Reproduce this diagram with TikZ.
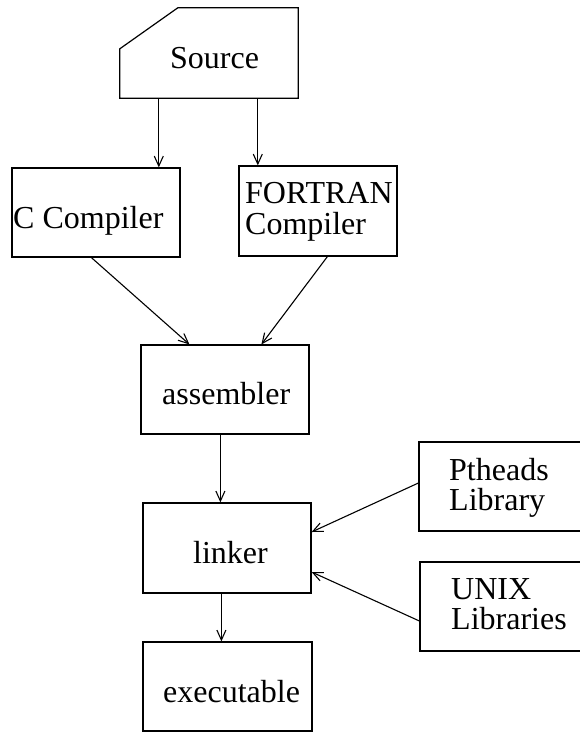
\documentclass[tikz,border=0pt]{standalone}
\usepackage{fontspec}
\setmainfont{Liberation Serif}
\usetikzlibrary{arrows.meta}
\begin{document}
\begin{tikzpicture}[x=1pt,y=-1pt,
  box/.style={draw,line width=1.2pt,inner sep=0pt},
  ghost/.style={inner sep=0pt},
  lbl/.style={anchor=base west,inner sep=0pt,font=\fontsize{32}{29}\selectfont},
  arr/.style={line width=1.1pt,-{Straight Barb[length=10pt,width=9pt,line width=1.1pt]}}]
\useasboundingbox (0,0) rectangle (580,732);
\clip (0,0) rectangle (580,732);
% source (cut corner)
\node[ghost,minimum width=178pt,minimum height=90pt] (src) at (209,53) {};
\draw[line width=1.2pt] (src.south west) -- ([yshift=-41pt]src.north west) -- ([xshift=58pt]src.north west) -- (src.north east) -- (src.south east) -- cycle;
\node[lbl] (tsrc) at (170,68) {Source};
% boxes
\node[box,minimum width=168pt,minimum height=89pt] (cc) at (96,212.5) {};
\node[box,minimum width=158pt,minimum height=90pt] (fc) at (318,211) {};
\node[box,minimum width=168pt,minimum height=89pt] (asm) at (225,389.5) {};
\node[box,minimum width=168pt,minimum height=90pt] (lnk) at (227,548) {};
\node[box,minimum width=169pt,minimum height=89pt] (exe) at (227.5,686.5) {};
\node[box,minimum width=200pt,minimum height=89pt] (pt) at (519,486.5) {};
\node[box,minimum width=200pt,minimum height=89pt] (ux) at (520,606.5) {};
% labels
\node[lbl] (tcc) at (13,228) {C Compiler};
\node[lbl] (tfc1) at (245,203.5) {FORTRAN};
\node[lbl] (tfc2) at (245,234) {Compiler};
\node[lbl] (tasm) at (162,404) {assembler};
\node[lbl] (tlnk) at (193,563) {linker};
\node[lbl] (texe) at (163,702) {executable};
\node[lbl] (tpt1) at (449,480.5) {Ptheads};
\node[lbl] (tpt2) at (449,510.5) {Library};
\node[lbl] (tux1) at (451,599.5) {UNIX};
\node[lbl] (tux2) at (451,629.5) {Libraries};
% connectors
\draw[arr] ([xshift=39pt]src.south west) -- ([xshift=39pt]src.south west |- cc.north);
\draw[arr] ([xshift=138pt]src.south west) -- ([xshift=138pt]src.south west |- fc.north);
\draw[arr] ([xshift=80pt]cc.south west) -- ([xshift=49pt]asm.north west);
\draw[arr] ([xshift=89pt]fc.south west) -- ([xshift=121pt]asm.north west);
\draw[arr] ([xshift=80pt]asm.south west) -- ([xshift=80pt]asm.south west |- lnk.north);
\draw[arr] ([xshift=79pt]lnk.south west) -- ([xshift=79pt]lnk.south west |- exe.north);
\draw[arr] ([yshift=3.5pt]pt.west) -- ([yshift=16pt]lnk.east);
\draw[arr] ([yshift=-14.5pt]ux.west) -- ([yshift=-24pt]lnk.east);
\end{tikzpicture}
\end{document}
